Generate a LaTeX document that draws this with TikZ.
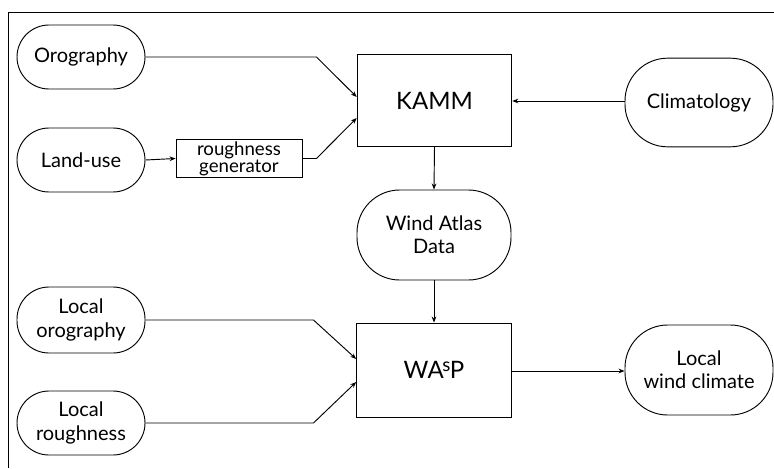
\documentclass[tikz,border=0pt]{standalone}
\usepackage{fontspec}
\setmainfont{Lato}
\usetikzlibrary{arrows.meta}
\begin{document}
\begin{tikzpicture}[x=0.75pt,y=-0.75pt,
  line width=0.7pt,
  every node/.style={font=\fontsize{15}{17.5}\selectfont, align=center, inner sep=0pt},
  pill/.style={draw, rounded corners=#1, minimum width=96pt},
  proc/.style={draw, minimum width=116pt, minimum height=68.5pt},
  arr/.style={-{Stealth[length=4.5pt,width=3.5pt]}}]
\useasboundingbox (0,0) rectangle (774,468);
\draw (8,468) -- (8,12) -- (774,12);

\node[pill=24pt, minimum height=48pt] (oro) at (81,57) {Orography};
\node[pill=24pt, minimum height=48pt] (land) at (81,160) {Land-use};
\node[draw, minimum width=94.5pt, minimum height=29pt, font=\fontsize{14}{13}\selectfont] (rg) at (239,158.5) {roughness\\generator};
\node[proc, font=\fontsize{18}{20}\selectfont] (kamm) at (434.5,100.5) {KAMM};
\node[pill=32pt, minimum width=111pt, minimum height=66.5pt] (clim) at (699,102.5) {Climatology};
\node[pill=32pt, minimum width=115.5pt, minimum height=67.5pt] (wad) at (434,235) {Wind Atlas\\Data};
\node[proc, minimum height=70.5pt, font=\fontsize{18}{20}\selectfont] (wasp) at (434,370) {WA\kern-1pt\raisebox{0.55ex}{\fontsize{14}{14}\selectfont s}\kern-0.5ptP};
\node[pill=32pt, minimum width=111pt, minimum height=67.5pt] (lwc) at (699,370) {Local\\wind climate};
\node[pill=24pt, minimum height=49.5pt] (lor) at (81,320) {Local\\orography};
\node[pill=24pt, minimum height=48pt] (lro) at (81,423) {Local\\roughness};

\path (kamm.west) ++(0,-3.5) coordinate (kin1);
\path (kamm.west) ++(0,17.5) coordinate (kin2);
\path (wasp.west) ++(0,-11) coordinate (win1);
\path (wasp.west) ++(0,12) coordinate (win2);

\draw[arr] (oro.east) -- ++(171,0) -- (kin1);
\draw[arr] (land.east) -- (rg.west);
\draw[arr] (rg.east) -- ++(14,0) -- (kin2);
\draw[arr] (clim.west |- 0,101) -- (kamm.east |- 0,101);
\draw[arr] (kamm.south) -- (wad.north);
\draw[arr] (wad.south) -- (wasp.north);
\draw[arr] (lor.east) -- ++(168,0) -- (win1);
\draw[arr] (lro.east) -- ++(168,0) -- (win2);
\draw[arr] (wasp.east |- 0,371) -- (lwc.west |- 0,371);
\end{tikzpicture}
\end{document}
